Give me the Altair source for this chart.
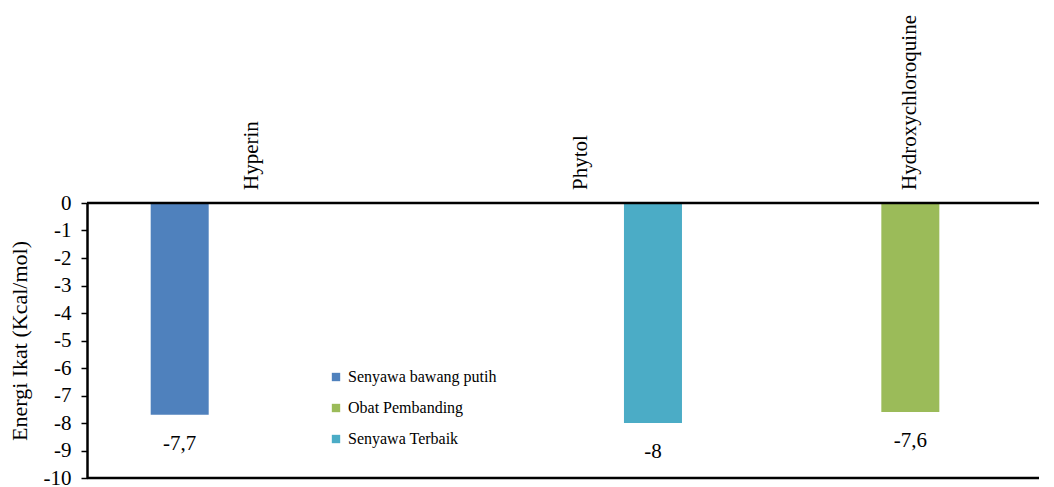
import altair as alt
import pandas as pd

categories = ["Hyperin", "Phytol", "Hydroxychloroquine"]
bar_series = ["Senyawa bawang putih", "Senyawa Terbaik", "Obat Pembanding"]
values = [-7.7, -8.0, -7.6]
value_labels = ["-7,7", "-8", "-7,6"]

series_order = ["Senyawa bawang putih", "Obat Pembanding", "Senyawa Terbaik"]
series_colors = ["#4F81BD", "#9BBB59", "#4BACC6"]
y_ticks = list(range(-10, 1))
frame_lines = [0, -10]

df = pd.DataFrame({
    "Senyawa": categories,
    "Seri": bar_series,
    "Energi": values,
    "Label": value_labels,
})
cat_df = pd.DataFrame({"Senyawa": categories})
frame_df = pd.DataFrame({"Energi": frame_lines})

FONT = "Liberation Serif"
W, H = 952, 275

x_scale = alt.Scale(domain=categories, range=[0, 988], paddingInner=0, paddingOuter=0)
y_scale = alt.Scale(domain=[-10, 0], nice=False, zero=True)
y_axis = alt.Axis(
    title="Energi Ikat (Kcal/mol)", titlePadding=12,
    values=y_ticks, tickCount=11, labelOverlap=False,
    labelExpr="datum.value == 0 ? '0' : '-' + abs(datum.value)",
    labelPadding=10, tickSize=6, grid=False,
)
x_enc = alt.X("Senyawa:N", sort=categories, scale=x_scale, axis=None)
y_enc = alt.Y("Energi:Q", scale=y_scale, axis=y_axis)
xoff_enc = alt.XOffset(
    "Seri:N",
    sort=series_order,
    scale=alt.Scale(domain=series_order, paddingInner=0.194, paddingOuter=0.885),
)

bars = alt.Chart(df).mark_bar().encode(
    x=x_enc,
    xOffset=xoff_enc,
    y=y_enc,
    color=alt.Color(
        "Seri:N",
        sort=series_order,
        scale=alt.Scale(domain=series_order, range=series_colors),
        legend=alt.Legend(
            title=None, orient="none", legendX=241, legendY=166,
            symbolType="square", symbolSize=70, symbolStrokeWidth=0,
            labelFont=FONT, labelFontSize=16, labelColor="black",
            rowPadding=15, labelOffset=4, direction="vertical",
        ),
    ),
)

texts = alt.Chart(df).mark_text(
    font=FONT, fontSize=21, color="black", baseline="middle", align="center", dy=29,
).encode(
    x=x_enc,
    xOffset=xoff_enc,
    y=y_enc,
    text="Label:N",
)

cat_labels = alt.Chart(cat_df).mark_text(
    font=FONT, fontSize=21, color="black", angle=270, align="left",
    baseline="middle",
).encode(
    x=x_enc,
    y=alt.value(-13),
    text="Senyawa:N",
)

rules = alt.Chart(frame_df).mark_rule(color="black", strokeWidth=2.5).encode(
    y=y_enc,
    x=alt.value(0),
    x2=alt.value(W),
)

chart = alt.layer(bars, texts, cat_labels, rules).properties(
    width=W, height=H, background="white",
    padding={"left": 0, "top": 7, "right": 0, "bottom": 0},
).configure_view(stroke=None).configure_axis(
    labelFont=FONT, labelFontSize=21, labelColor="black",
    titleFont=FONT, titleFontSize=22, titleFontWeight="normal", titleColor="black",
    tickColor="black", tickWidth=1.5, domainColor="black", domainWidth=2.5,
)

chart.save("out.html", embed_options={"renderer": "svg", "actions": False})
